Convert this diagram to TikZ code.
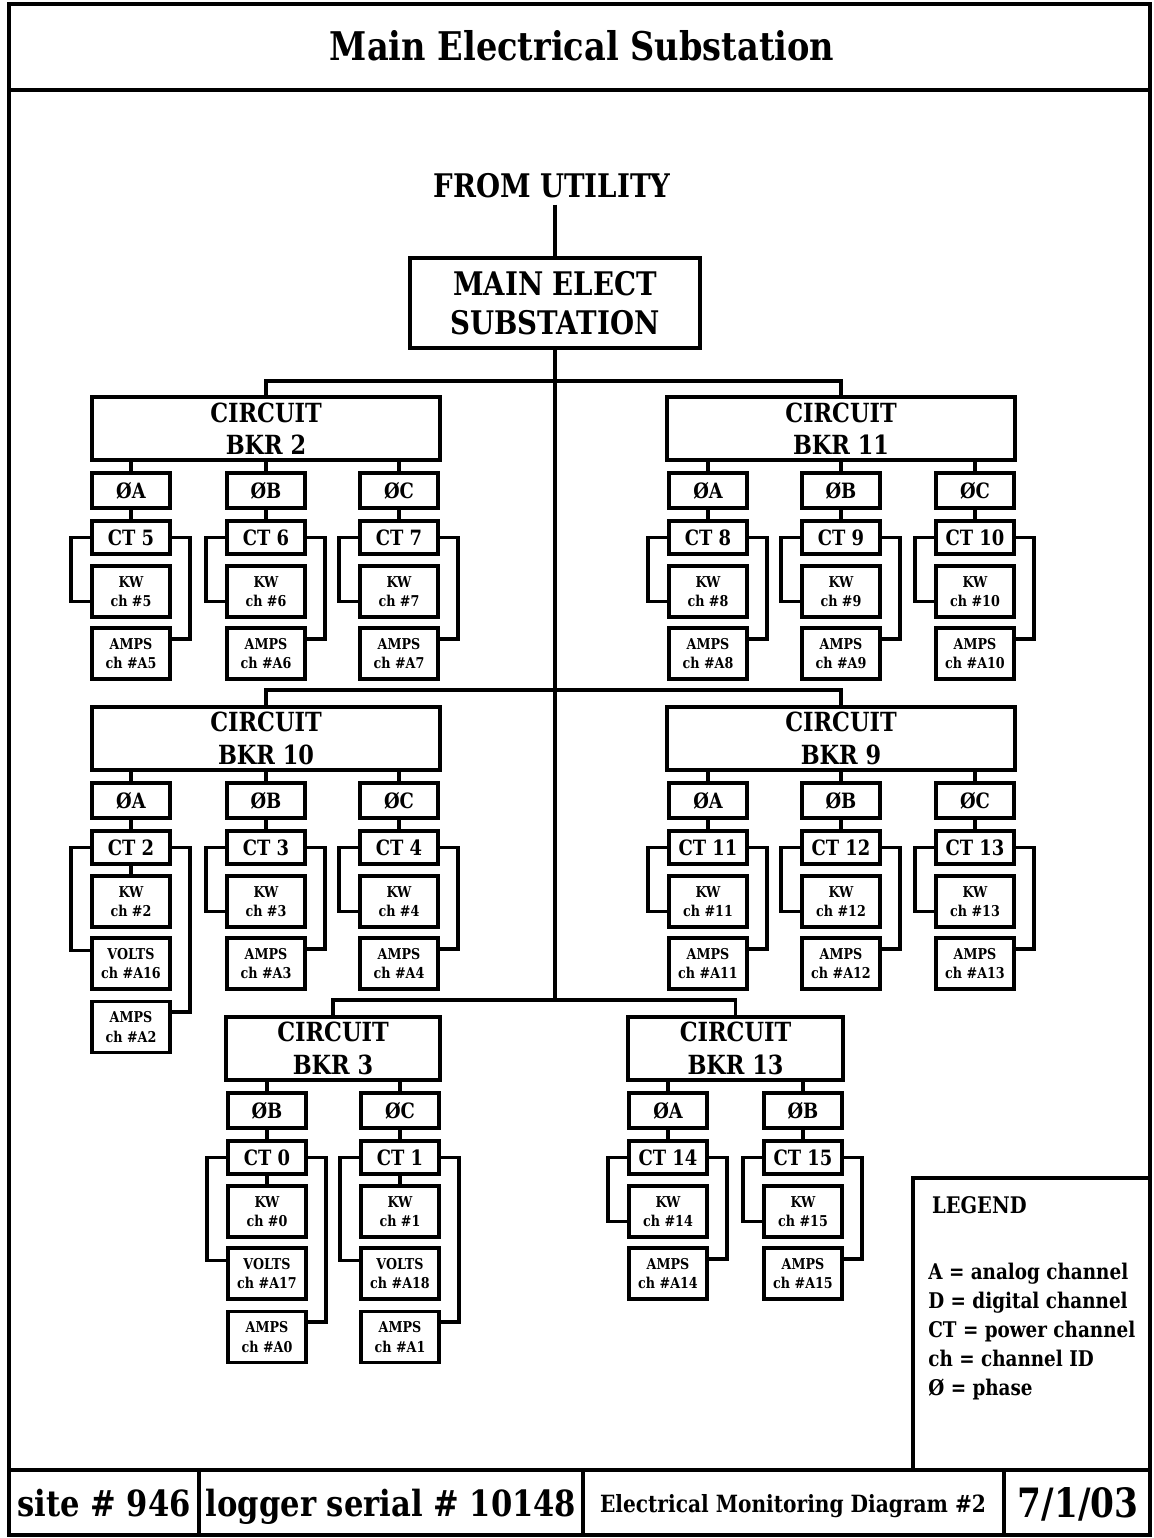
\documentclass[tikz,border=0pt]{standalone}
\usepackage{fontspec}
\newfontfamily\heavy{DejaVu Serif}[FakeStretch=0.85]

\begin{document}
\begin{tikzpicture}[x=0.02cm, y=-0.02cm,
  every node/.style={font=\heavy\bfseries},
  wire/.style={line width=2.2pt},
  frm/.style={line width=2.4pt},
  box/.style={draw, line width=2.2pt, inner sep=0pt, align=center},
  brk/.style={box, minimum width=6.96cm, minimum height=1.26cm, font=\heavy\bfseries\fontsize{15}{18.5}\selectfont},
  ph/.style={box, minimum width=1.56cm, minimum height=0.7cm, font=\heavy\bfseries\fontsize{12}{14}\selectfont},
  ct/.style={box, minimum width=1.56cm, minimum height=0.66cm, font=\heavy\bfseries\fontsize{12}{14}\selectfont},
  mtr/.style={box, minimum width=1.56cm, minimum height=1.02cm, font=\heavy\bfseries\fontsize{8.5}{11}\selectfont},
  foot/.style={anchor=base, inner sep=0pt}]
\useasboundingbox (0,0) rectangle (1153,1538);

% Frame
\draw[frm] (9,4) rectangle (1150,1535);
\draw[frm] (9,90) -- (1150,90);
\draw[frm] (9,1470) -- (1150,1470);
\draw[frm] (199,1470) -- (199,1535);
\draw[frm] (583,1470) -- (583,1535);
\draw[frm] (1004,1470) -- (1004,1535);
\node[font=\heavy\bfseries\fontsize{22.5}{26}\selectfont] (title) at (582,46) {Main Electrical Substation};

% Utility feed
\node[font=\heavy\bfseries\fontsize{18.5}{22}\selectfont] (util) at (552,186) {FROM UTILITY};
\node[box, minimum width=5.8cm, minimum height=1.8cm, font=\heavy\bfseries\fontsize{18.5}{22}\selectfont] (main) at (555,303) {MAIN ELECT\\SUBSTATION};
\draw[wire] (main.north |- util.south) -- (main.north);
\coordinate (j1) at (555,381);
\coordinate (j2) at (555,690);
\coordinate (j3) at (555,1000);

% Circuit breaker 2
\begin{scope}[shift={(0,397)}]
\node[brk] (b2) at (266,31.5) {CIRCUIT\\BKR 2};
\node[ph] (b2a) at (131,93.5) {ØA};
\node[ph] (b2b) at (266,93.5) {ØB};
\node[ph] (b2c) at (399,93.5) {ØC};
\node[ct] (b2act) at (131,140.5) {CT 5};
\node[ct] (b2bct) at (266,140.5) {CT 6};
\node[ct] (b2cct) at (399,140.5) {CT 7};
\node[mtr] (b2akw) at (131,194.5) {KW\\ch \#5};
\node[mtr] (b2bkw) at (266,194.5) {KW\\ch \#6};
\node[mtr] (b2ckw) at (399,194.5) {KW\\ch \#7};
\node[mtr] (b2aamp) at (131,256.5) {AMPS\\ch \#A5};
\node[mtr] (b2bamp) at (266,256.5) {AMPS\\ch \#A6};
\node[mtr] (b2camp) at (399,256.5) {AMPS\\ch \#A7};
\draw[wire] (b2a.north) -- (b2a.north |- b2.south);
\draw[wire] (b2b.north) -- (b2b.north |- b2.south);
\draw[wire] (b2c.north) -- (b2c.north |- b2.south);
\draw[wire] (b2a) -- (b2act);
\draw[wire] (b2b) -- (b2bct);
\draw[wire] (b2c) -- (b2cct);
\draw[wire] (b2act.west) -- ++(-19,0) |- ([yshift=-5.7pt]b2akw.west);
\draw[wire] (b2bct.west) -- ++(-19,0) |- ([yshift=-5.7pt]b2bkw.west);
\draw[wire] (b2cct.west) -- ++(-19,0) |- ([yshift=-5.7pt]b2ckw.west);
\draw[wire] (b2act.east) -- ++(18,0) |- ([yshift=8.5pt]b2aamp.east);
\draw[wire] (b2bct.east) -- ++(18,0) |- ([yshift=8.5pt]b2bamp.east);
\draw[wire] (b2cct.east) -- ++(18,0) |- ([yshift=8.5pt]b2camp.east);
\end{scope}

% Circuit breaker 11
\begin{scope}[shift={(0,397)}]
\node[brk] (b11) at (841,31.5) {CIRCUIT\\BKR 11};
\node[ph] (b11a) at (708,93.5) {ØA};
\node[ph] (b11b) at (841,93.5) {ØB};
\node[ph] (b11c) at (975,93.5) {ØC};
\node[ct] (b11act) at (708,140.5) {CT 8};
\node[ct] (b11bct) at (841,140.5) {CT 9};
\node[ct] (b11cct) at (975,140.5) {CT 10};
\node[mtr] (b11akw) at (708,194.5) {KW\\ch \#8};
\node[mtr] (b11bkw) at (841,194.5) {KW\\ch \#9};
\node[mtr] (b11ckw) at (975,194.5) {KW\\ch \#10};
\node[mtr] (b11aamp) at (708,256.5) {AMPS\\ch \#A8};
\node[mtr] (b11bamp) at (841,256.5) {AMPS\\ch \#A9};
\node[mtr] (b11camp) at (975,256.5) {AMPS\\ch \#A10};
\draw[wire] (b11a.north) -- (b11a.north |- b11.south);
\draw[wire] (b11b.north) -- (b11b.north |- b11.south);
\draw[wire] (b11c.north) -- (b11c.north |- b11.south);
\draw[wire] (b11a) -- (b11act);
\draw[wire] (b11b) -- (b11bct);
\draw[wire] (b11c) -- (b11cct);
\draw[wire] (b11act.west) -- ++(-19,0) |- ([yshift=-5.7pt]b11akw.west);
\draw[wire] (b11bct.west) -- ++(-19,0) |- ([yshift=-5.7pt]b11bkw.west);
\draw[wire] (b11cct.west) -- ++(-19,0) |- ([yshift=-5.7pt]b11ckw.west);
\draw[wire] (b11act.east) -- ++(18,0) |- ([yshift=8.5pt]b11aamp.east);
\draw[wire] (b11bct.east) -- ++(18,0) |- ([yshift=8.5pt]b11bamp.east);
\draw[wire] (b11cct.east) -- ++(18,0) |- ([yshift=8.5pt]b11camp.east);
\end{scope}

% Circuit breaker 10
\begin{scope}[shift={(0,707)}]
\node[brk] (b10) at (266,31.5) {CIRCUIT\\BKR 10};
\node[ph] (b10a) at (131,93.5) {ØA};
\node[ph] (b10b) at (266,93.5) {ØB};
\node[ph] (b10c) at (399,93.5) {ØC};
\node[ct] (b10act) at (131,140.5) {CT 2};
\node[ct] (b10bct) at (266,140.5) {CT 3};
\node[ct] (b10cct) at (399,140.5) {CT 4};
\node[mtr] (b10akw) at (131,194.5) {KW\\ch \#2};
\node[mtr] (b10bkw) at (266,194.5) {KW\\ch \#3};
\node[mtr] (b10ckw) at (399,194.5) {KW\\ch \#4};
\node[mtr] (b10avlt) at (131,256.5) {VOLTS\\ch \#A16};
\node[mtr] (b10bamp) at (266,256.5) {AMPS\\ch \#A3};
\node[mtr] (b10camp) at (399,256.5) {AMPS\\ch \#A4};
\node[mtr] (b10aamp) at (131,320) {AMPS\\ch \#A2};
\draw[wire] (b10a.north) -- (b10a.north |- b10.south);
\draw[wire] (b10b.north) -- (b10b.north |- b10.south);
\draw[wire] (b10c.north) -- (b10c.north |- b10.south);
\draw[wire] (b10a) -- (b10act);
\draw[wire] (b10b) -- (b10bct);
\draw[wire] (b10c) -- (b10cct);
\draw[wire] (b10act) -- (b10akw);
\draw[wire] (b10act.west) -- ++(-19,0) |- ([yshift=7.4pt]b10avlt.west);
\draw[wire] (b10bct.west) -- ++(-19,0) |- ([yshift=-5.7pt]b10bkw.west);
\draw[wire] (b10cct.west) -- ++(-19,0) |- ([yshift=-5.7pt]b10ckw.west);
\draw[wire] (b10act.east) -- ++(18,0) |- ([yshift=8.5pt]b10aamp.east);
\draw[wire] (b10bct.east) -- ++(18,0) |- ([yshift=8.5pt]b10bamp.east);
\draw[wire] (b10cct.east) -- ++(18,0) |- ([yshift=8.5pt]b10camp.east);
\end{scope}

% Circuit breaker 9
\begin{scope}[shift={(0,707)}]
\node[brk] (b9) at (841,31.5) {CIRCUIT\\BKR 9};
\node[ph] (b9a) at (708,93.5) {ØA};
\node[ph] (b9b) at (841,93.5) {ØB};
\node[ph] (b9c) at (975,93.5) {ØC};
\node[ct] (b9act) at (708,140.5) {CT 11};
\node[ct] (b9bct) at (841,140.5) {CT 12};
\node[ct] (b9cct) at (975,140.5) {CT 13};
\node[mtr] (b9akw) at (708,194.5) {KW\\ch \#11};
\node[mtr] (b9bkw) at (841,194.5) {KW\\ch \#12};
\node[mtr] (b9ckw) at (975,194.5) {KW\\ch \#13};
\node[mtr] (b9aamp) at (708,256.5) {AMPS\\ch \#A11};
\node[mtr] (b9bamp) at (841,256.5) {AMPS\\ch \#A12};
\node[mtr] (b9camp) at (975,256.5) {AMPS\\ch \#A13};
\draw[wire] (b9a.north) -- (b9a.north |- b9.south);
\draw[wire] (b9b.north) -- (b9b.north |- b9.south);
\draw[wire] (b9c.north) -- (b9c.north |- b9.south);
\draw[wire] (b9a) -- (b9act);
\draw[wire] (b9b) -- (b9bct);
\draw[wire] (b9c) -- (b9cct);
\draw[wire] (b9act.west) -- ++(-19,0) |- ([yshift=-5.7pt]b9akw.west);
\draw[wire] (b9bct.west) -- ++(-19,0) |- ([yshift=-5.7pt]b9bkw.west);
\draw[wire] (b9cct.west) -- ++(-19,0) |- ([yshift=-5.7pt]b9ckw.west);
\draw[wire] (b9act.east) -- ++(18,0) |- ([yshift=8.5pt]b9aamp.east);
\draw[wire] (b9bct.east) -- ++(18,0) |- ([yshift=8.5pt]b9bamp.east);
\draw[wire] (b9cct.east) -- ++(18,0) |- ([yshift=8.5pt]b9camp.east);
\end{scope}

% Circuit breaker 3
\begin{scope}[shift={(0,1017)}]
\node[brk, minimum width=4.28cm] (b3) at (333,31.5) {CIRCUIT\\BKR 3};
\node[ph] (b3b) at (267,93.5) {ØB};
\node[ph] (b3c) at (400,93.5) {ØC};
\node[ct] (b3bct) at (267,140.5) {CT 0};
\node[ct] (b3cct) at (400,140.5) {CT 1};
\node[mtr] (b3bkw) at (267,194.5) {KW\\ch \#0};
\node[mtr] (b3ckw) at (400,194.5) {KW\\ch \#1};
\node[mtr] (b3bvlt) at (267,256.5) {VOLTS\\ch \#A17};
\node[mtr] (b3cvlt) at (400,256.5) {VOLTS\\ch \#A18};
\node[mtr] (b3bamp) at (267,320) {AMPS\\ch \#A0};
\node[mtr] (b3camp) at (400,320) {AMPS\\ch \#A1};
\draw[wire] (b3b.north) -- (b3b.north |- b3.south);
\draw[wire] (b3c.north) -- (b3c.north |- b3.south);
\draw[wire] (b3b) -- (b3bct);
\draw[wire] (b3c) -- (b3cct);
\draw[wire] (b3bct) -- (b3bkw);
\draw[wire] (b3cct) -- (b3ckw);
\draw[wire] (b3bct.west) -- ++(-19,0) |- ([yshift=7.4pt]b3bvlt.west);
\draw[wire] (b3cct.west) -- ++(-19,0) |- ([yshift=7.4pt]b3cvlt.west);
\draw[wire] (b3bct.east) -- ++(18,0) |- ([yshift=8.5pt]b3bamp.east);
\draw[wire] (b3cct.east) -- ++(18,0) |- ([yshift=8.5pt]b3camp.east);
\end{scope}

% Circuit breaker 13
\begin{scope}[shift={(0,1017)}]
\node[brk, minimum width=4.3cm] (b13) at (735.5,31.5) {CIRCUIT\\BKR 13};
\node[ph] (b13a) at (668,93.5) {ØA};
\node[ph] (b13b) at (803,93.5) {ØB};
\node[ct] (b13act) at (668,140.5) {CT 14};
\node[ct] (b13bct) at (803,140.5) {CT 15};
\node[mtr] (b13akw) at (668,194.5) {KW\\ch \#14};
\node[mtr] (b13bkw) at (803,194.5) {KW\\ch \#15};
\node[mtr] (b13aamp) at (668,256.5) {AMPS\\ch \#A14};
\node[mtr] (b13bamp) at (803,256.5) {AMPS\\ch \#A15};
\draw[wire] (b13a.north) -- (b13a.north |- b13.south);
\draw[wire] (b13b.north) -- (b13b.north |- b13.south);
\draw[wire] (b13a) -- (b13act);
\draw[wire] (b13b) -- (b13bct);
\draw[wire] (b13act.west) -- ++(-19,0) |- ([yshift=-5.7pt]b13akw.west);
\draw[wire] (b13bct.west) -- ++(-19,0) |- ([yshift=-5.7pt]b13bkw.west);
\draw[wire] (b13act.east) -- ++(18,0) |- ([yshift=8.5pt]b13aamp.east);
\draw[wire] (b13bct.east) -- ++(18,0) |- ([yshift=8.5pt]b13bamp.east);
\end{scope}

% Buses
\draw[wire] (main.south) -- (j3);
\draw[wire] (b2.north) |- (j1) -| (b11.north);
\draw[wire] (b10.north) |- (j2) -| (b9.north);
\draw[wire] (b3.north) |- (j3) -| (b13.north);

% Legend
\draw[frm] (913,1470) |- (1150,1178);
\node[anchor=west, font=\heavy\bfseries\fontsize{13}{16}\selectfont] (leg) at (926,1205) {LEGEND};
\node[anchor=north west, align=left, inner sep=0pt, font=\heavy\bfseries\fontsize{12.3}{16.4}\selectfont] (legtxt) at (928,1263) {A = analog channel\\D = digital channel\\CT = power channel\\ch = channel ID\\Ø = phase};

% Footer
\node[foot, font=\heavy\bfseries\fontsize{20.5}{24}\selectfont] (site) at (104,1516) {site \# 946};
\node[foot, font=\heavy\bfseries\fontsize{20.5}{24}\selectfont] (logger) at (391,1516) {logger serial \# 10148};
\node[foot, font=\heavy\bfseries\fontsize{13.5}{16}\selectfont] (diag) at (793,1512) {Electrical Monitoring Diagram \#2};
\node[foot, font=\heavy\bfseries\fontsize{23}{26}\selectfont] (date) at (1078,1517) {7/1/03};
\end{tikzpicture}
\end{document}
